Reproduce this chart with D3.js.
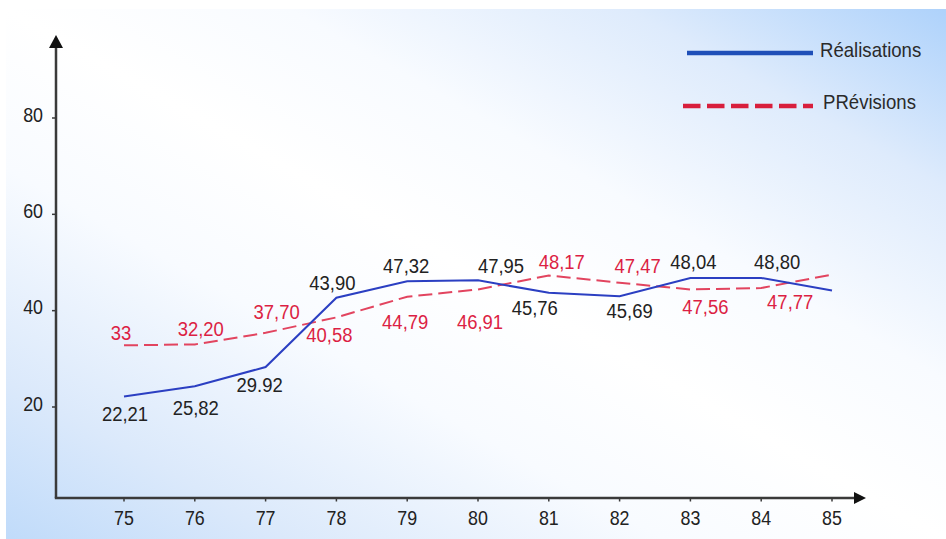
<!DOCTYPE html>
<html>
<head>
<meta charset="utf-8">
<script src="https://cdn.jsdelivr.net/npm/d3@7/dist/d3.min.js"></script>
<style>
  html, body { margin: 0; padding: 0; background: #ffffff; }
  svg { display: block; }
</style>
</head>
<body>
<svg id="chart" width="946" height="539"></svg>
<script>
// ---- data ----
const years = [75, 76, 77, 78, 79, 80, 81, 82, 83, 84, 85];
const yTicks = [20, 40, 60, 80];
const seriesNames = ["Réalisations", "PRévisions"];
// values as plotted in the picture
const realisations = [22.2, 24.3, 28.3, 42.7, 46.1, 46.3, 43.7, 43.0, 46.8, 46.8, 44.2];
const previsions   = [32.8, 33.0, 35.4, 38.6, 42.9, 44.4, 47.3, 45.8, 44.4, 44.7, 47.5];
// value labels printed on the chart
const realisationsLabels = ["22,21", "25,82", "29.92", "43,90", "47,32", "47,95", "45,76", "45,69", "48,04", "48,80", ""];
const previsionsLabels   = ["33", "32,20", "37,70", "40,58", "44,79", "46,91", "48,17", "47,47", "47,56", "47,77", ""];

// ---- label layout (offsets from point, to text centre) ----
const realLabelDx = [1, 1, -6, -4, -1, 23, -14, 10, 3, 16, 0];
const realLabelDy = [17, 21, 18, -15, -16, -15, 15, 14, -16, -16, 0];
const prevLabelDx = [-3, 6, 11, -7, -2, 2, 13, 18, 15, 29, 0];
const prevLabelDy = [-13, -16, -21, 17, 25, 32, -14, -17, 17, 14, 0];

const svg = d3.select("#chart");
const W = 946, H = 539;

// background gradient
const defs = svg.append("defs");
const grad = defs.append("linearGradient").attr("id", "bg")
  .attr("x1", 1).attr("y1", 0).attr("x2", 0).attr("y2", 1);
[[0, "#aed2fb"], [0.17, "#deebfc"], [0.35, "#f8fbff"], [0.5, "#ffffff"],
 [0.65, "#f8fbff"], [0.85, "#dbe9fb"], [1, "#c0dbfa"]]
  .forEach(([o, c]) => grad.append("stop").attr("offset", o).attr("stop-color", c));
svg.append("rect").attr("x", 6).attr("y", 9).attr("width", W - 6).attr("height", H - 9)
  .attr("fill", "url(#bg)");

// scales
const x = d3.scaleLinear().domain([75, 85]).range([124, 832]);
const y = d3.scaleLinear().domain([20, 80]).range([407, 118]);

const axisX0 = 56, axisY0 = 498;
const axisColor = "#3a3a3a";
const font = "'Liberation Sans', Arial, Helvetica, sans-serif";

// axes lines
svg.append("line").attr("x1", axisX0).attr("y1", axisY0).attr("x2", axisX0).attr("y2", 44)
  .attr("stroke", axisColor).attr("stroke-width", 2.5);
svg.append("path").attr("d", `M${axisX0},35 L${axisX0 - 7},48 L${axisX0 + 7},48 Z`).attr("fill", "#111");
svg.append("line").attr("x1", axisX0 - 1.2).attr("y1", axisY0).attr("x2", 858).attr("y2", axisY0)
  .attr("stroke", axisColor).attr("stroke-width", 2.5);
svg.append("path").attr("d", `M866,${axisY0} L854,${axisY0 - 6} L854,${axisY0 + 6} Z`).attr("fill", "#111");

// x ticks + labels
const xt = svg.append("g");
years.forEach(yr => {
  xt.append("line").attr("x1", x(yr)).attr("x2", x(yr)).attr("y1", axisY0).attr("y2", axisY0 + 3.5)
    .attr("stroke", axisColor).attr("stroke-width", 1.5);
  xt.append("text")
    .attr("transform", `translate(${x(yr)},${525}) scale(0.85,1)`)
    .attr("text-anchor", "middle").attr("font-family", font).attr("font-size", 21)
    .attr("fill", "#222").text(yr);
});
// y ticks + labels
const yt = svg.append("g");
yTicks.forEach(v => {
  yt.append("line").attr("x1", axisX0 - 4).attr("x2", axisX0).attr("y1", y(v)).attr("y2", y(v))
    .attr("stroke", axisColor).attr("stroke-width", 1.5);
  yt.append("text")
    .attr("transform", `translate(${43},${y(v) - 4 + 7.5}) scale(0.85,1)`)
    .attr("text-anchor", "end").attr("font-family", font).attr("font-size", 21)
    .attr("fill", "#222").text(v);
});

// lines
const line = d3.line().x((d, i) => x(years[i])).y(d => y(d));
svg.append("path").datum(previsions).attr("d", line)
  .attr("fill", "none").attr("stroke", "#e2445f").attr("stroke-width", 2)
  .attr("stroke-dasharray", "14,6");
svg.append("path").datum(realisations).attr("d", line)
  .attr("fill", "none").attr("stroke", "#2b3fc2").attr("stroke-width", 2);

// value labels
function drawLabels(vals, labels, dx, dy, color) {
  svg.append("g").selectAll("text").data(vals).join("text")
    .attr("transform", (d, i) =>
      `translate(${x(years[i]) + dx[i]},${y(d) + dy[i] + 7.3}) scale(0.9,1)`)
    .attr("text-anchor", "middle")
    .attr("font-family", font).attr("font-size", 20.5)
    .attr("fill", color)
    .text((d, i) => labels[i]);
}
drawLabels(realisations, realisationsLabels, realLabelDx, realLabelDy, "#222222");
drawLabels(previsions, previsionsLabels, prevLabelDx, prevLabelDy, "#dc1f44");

// legend
const lg = svg.append("g");
lg.append("line").attr("x1", 687).attr("x2", 813).attr("y1", 53).attr("y2", 53)
  .attr("stroke", "#1f4fb8").attr("stroke-width", 4.5);
lg.append("text").attr("transform", "translate(820,57) scale(0.93,1)").attr("font-family", font).attr("font-size", 20)
  .attr("fill", "#2a2a2a").text(seriesNames[0]);
lg.append("line").attr("x1", 683).attr("x2", 813).attr("y1", 106).attr("y2", 106)
  .attr("stroke", "#d81e3c").attr("stroke-width", 4.5).attr("stroke-dasharray", "17.5,6.5");
lg.append("text").attr("transform", "translate(823,109) scale(0.93,1)").attr("font-family", font).attr("font-size", 20)
  .attr("fill", "#2a2a2a").text(seriesNames[1]);
</script>
</body>
</html>
